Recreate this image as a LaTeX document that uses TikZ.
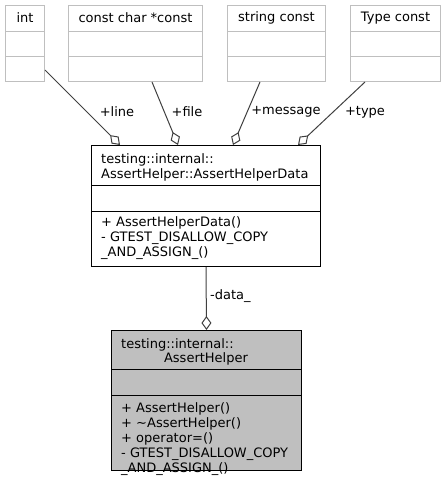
\documentclass[tikz,border=0pt]{standalone}
\usepackage{fontspec}
\setmainfont{DejaVu Sans}
\usetikzlibrary{arrows.meta,calc}

\definecolor{edgegray}{HTML}{404040}
\definecolor{boxgray}{HTML}{BFBFBF}

\tikzset{
  typebox/.style={draw=boxgray, line width=1pt, anchor=north west, inner sep=0pt},
  classbox/.style={draw=black, line width=1pt, anchor=north west, inner sep=0pt},
  member/.style={draw=edgegray, line width=1pt, {Diamond[open,length=14pt,width=10pt]}-},
  txt/.style={inner sep=0pt, font=\fontsize{13}{15}\selectfont},
}

\begin{document}
\begin{tikzpicture}[x=1pt,y=-1pt]
      \useasboundingbox (0,0) rectangle (446,485);

      % member types
      \def \Types {
        int/5/39/int,
        file/68/134/const char *const,
        msg/227/98/string const,
        type/350/90/Type const}

      \foreach \id / \x / \w / \txt in \Types {
        \node[typebox, minimum width=\w pt, minimum height=76pt] (\id) at (\x, 5) {};
        \node[txt] (\id-title) at ($(\id.north)+(0,13)$) {\txt};
        \draw[boxgray, line width=1pt] ($(\id.north west)+(0,26)$) -- ($(\id.north east)+(0,26)$);
        \draw[boxgray, line width=1pt] ($(\id.north west)+(0,51)$) -- ($(\id.north east)+(0,51)$);
      }

      % AssertHelperData
      \node[classbox, minimum width=229pt, minimum height=121pt] (data) at (91, 145) {};
      \draw[line width=1pt] ($(data.north west)+(0,40)$) -- ($(data.north east)+(0,40)$);
      \draw[line width=1pt] ($(data.north west)+(0,66)$) -- ($(data.north east)+(0,66)$);
      \node[txt, anchor=north west, align=left] (data-title) at (101, 153)
        {testing::internal::\\AssertHelper::AssertHelperData};
      \node[txt, anchor=north west, align=left] (data-ops) at (101, 216)
        {+ AssertHelperData()\\- GTEST\_DISALLOW\_COPY\\\_AND\_ASSIGN\_()};

      % AssertHelper
      \node[classbox, fill=boxgray, minimum width=190pt, minimum height=140pt] (helper) at (111, 330) {};
      \draw[line width=1pt] ($(helper.north west)+(0,39)$) -- ($(helper.north east)+(0,39)$);
      \draw[line width=1pt] ($(helper.north west)+(0,65)$) -- ($(helper.north east)+(0,65)$);
      \node[txt, anchor=north west] (helper-ns) at (121, 338) {testing::internal::};
      \node[txt, anchor=north] (helper-name) at (206, 352) {AssertHelper};
      \node[txt, anchor=north west, align=left] (helper-ops) at (121, 402)
        {+ AssertHelper()\\+ \textasciitilde AssertHelper()\\+ operator=()\\- GTEST\_DISALLOW\_COPY\\\_AND\_ASSIGN\_()};

      % members
      \coordinate (from-int) at ($(int.north east)+(0,65)$);
      \coordinate (from-file) at ($(file.south west)+(84,0)$);
      \coordinate (from-msg) at ($(msg.south west)+(33,0)$);
      \coordinate (from-type) at ($(type.south west)+(15,0)$);
      \coordinate (to-int) at ($(data.north west)+(29,0)$);
      \coordinate (to-file) at ($(data.north west)+(87,0)$);
      \coordinate (to-msg) at ($(data.north west)+(142,0)$);
      \coordinate (to-type) at ($(data.north west)+(207,0)$);

      \foreach \id / \lx / \lbl in {int/117/+line, file/187/+file, msg/286/+message, type/365/+type} {
        \draw[member] (to-\id) -- (from-\id);
        \node[txt] (lbl-\id) at (\lx, 112) {\lbl};
      }

      \draw[member] (helper.north) -- (data.south);
      \node[txt, anchor=west] (lbl-data) at (210, 296) {-data\_};
    \end{tikzpicture}
\end{document}
